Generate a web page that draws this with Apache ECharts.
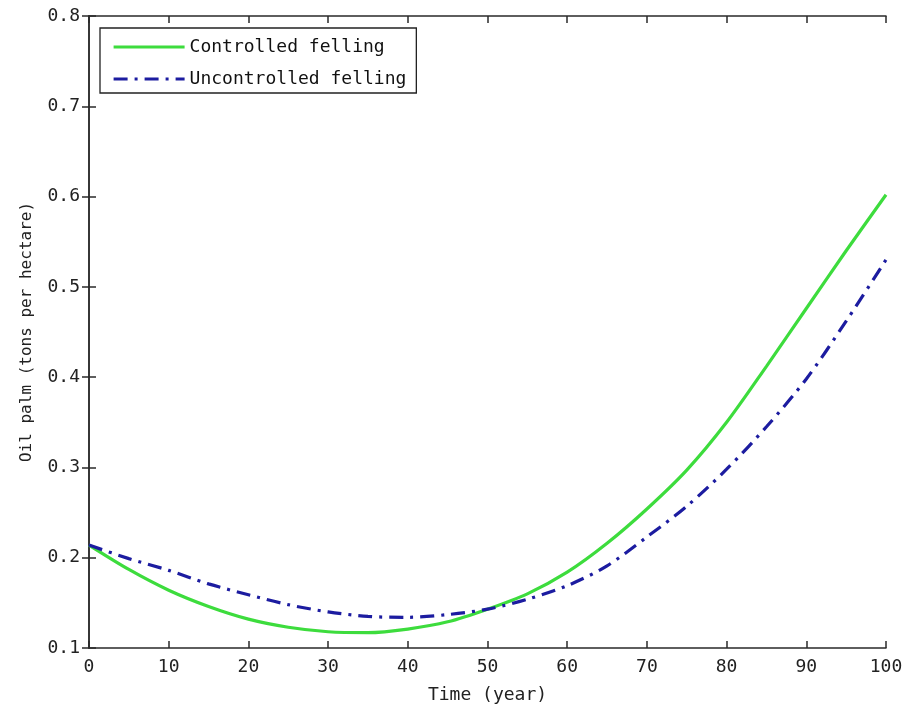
<!DOCTYPE html>
<html>
<head>
<meta charset="utf-8">
<script src="https://cdn.jsdelivr.net/npm/echarts@6/dist/echarts.min.js"></script>
<style>html,body{margin:0;padding:0;background:#fff;}#c{width:906px;height:714px;}</style>
</head>
<body>
<div id="c"></div>
<script>
const years = [0,5,10,15,20,25,30,35,40,45,50,55,60,65,70,75,80,85,90,95,100];
const controlled = [0.214,0.187,0.164,0.146,0.132,0.123,0.118,0.117,0.121,0.129,0.143,0.160,0.184,0.216,0.254,0.297,0.350,0.412,0.476,0.540,0.602];
const uncontrolled = [0.214,0.199,0.186,0.171,0.159,0.148,0.140,0.135,0.134,0.137,0.143,0.154,0.169,0.191,0.223,0.257,0.298,0.345,0.398,0.462,0.530];
const seriesNames = ['Controlled felling','Uncontrolled felling'];
const xTitle = 'Time (year)';
const yTitle = 'Oil palm (tons per hectare)';

const FONT = 'DejaVu Sans Mono';
const pair = (xs, ys) => xs.map((x,i)=>[x, ys[i]]);
const chart = echarts.init(document.getElementById('c'), null, {renderer:'canvas'});
const axisLine = {show:true, lineStyle:{color:'#2a2a2a', width:1.5}};
const tick = {show:true, inside:true, length:7, lineStyle:{color:'#2a2a2a', width:1.5}};
chart.setOption({
  backgroundColor:'#fff',
  animation:false,
  grid:{left:89, right:20, top:16, bottom:66, containLabel:false},
  legend:{
    left:100, top:28, orient:'vertical',
    backgroundColor:'#fff', borderColor:'#222', borderWidth:1.3,
    padding:[10,10,5,12], itemGap:14, itemWidth:71, itemHeight:18,
    itemStyle:{opacity:0},
    lineStyle:{width:3.2},
    textStyle:{fontFamily:FONT, fontSize:18, color:'#111'},
    data:seriesNames
  },
  xAxis:[{
    type:'value', min:0, max:100, interval:10, position:'bottom',
    axisLine, axisTick:tick, splitLine:{show:false},
    axisLabel:{fontFamily:FONT, fontSize:18, color:'#222', margin:10},
    name:xTitle, nameLocation:'middle', nameGap:38,
    nameTextStyle:{fontFamily:FONT, fontSize:18, color:'#222'}
  },{
    type:'value', min:0, max:100, interval:10, position:'top',
    axisLine, axisTick:tick, splitLine:{show:false}, axisLabel:{show:false}
  }],
  yAxis:[{
    type:'value', min:0.1, max:0.8, interval:0.1, position:'left',
    axisLine, axisTick:tick, splitLine:{show:false},
    axisLabel:{fontFamily:FONT, fontSize:18, color:'#222', margin:9, formatter:v=>v.toFixed(1)},
    name:yTitle, nameLocation:'middle', nameGap:54,
    nameTextStyle:{fontFamily:FONT, fontSize:16, color:'#222'}
  },{
    type:'value', min:0.1, max:0.8, interval:0.1, position:'right',
    axisLine, axisTick:tick, splitLine:{show:false}, axisLabel:{show:false}
  }],
  series:[{
    name:seriesNames[0], type:'line', data:pair(years, controlled),
    xAxisIndex:0, yAxisIndex:0, smooth:0.3, symbol:'none',
    lineStyle:{color:'#3ddc3d', width:3.2}, itemStyle:{color:'#3ddc3d'}
  },{
    name:seriesNames[1], type:'line', data:pair(years, uncontrolled),
    xAxisIndex:0, yAxisIndex:0, smooth:0.3, symbol:'none',
    lineStyle:{color:'#1c1ca0', width:3.2, type:[14,7,3,7]}, itemStyle:{color:'#1c1ca0'}
  }]
});
</script>
</body>
</html>
